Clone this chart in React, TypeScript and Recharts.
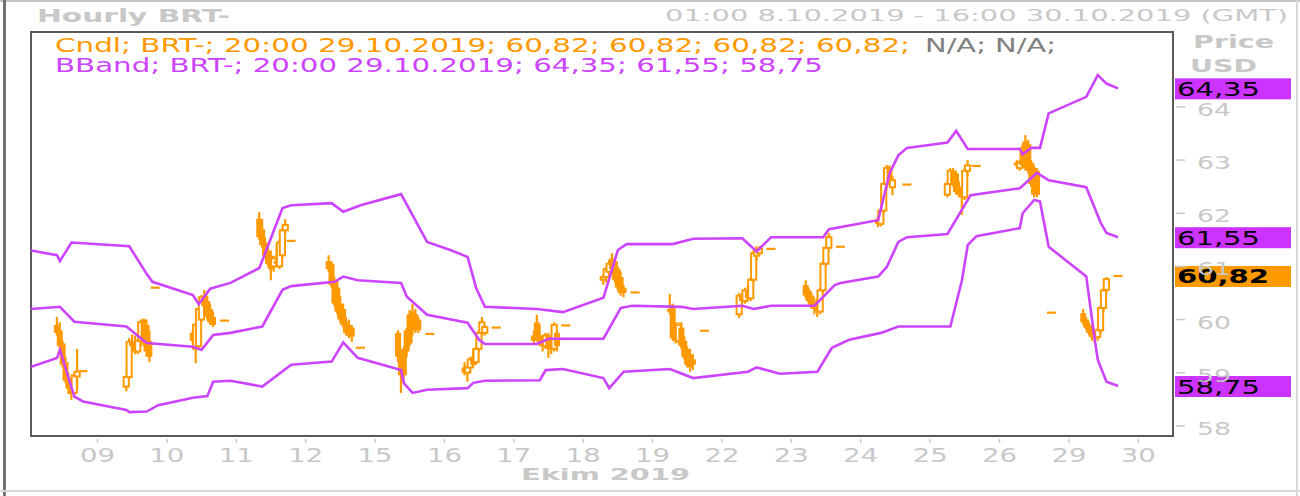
import { ComposedChart, Bar, Line, XAxis, YAxis, ReferenceLine, ReferenceArea } from 'recharts'

const ORANGE = '#FF9900'
const VIOLET = '#CC44FF'
const TAG_VIOLET = '#CC33FF'
const LIGHT = '#C8C8C8'
const FRAME = '#5A5A5A'
const FONT = "'DejaVu Sans', Verdana, sans-serif"

// x = hours since 01:00 8.10.2019, weekends squeezed out (24 slots per day)
const dayLabels = ['09', '10', '11', '12', '15', '16', '17', '18', '19', '22', '23', '24', '25', '26', '29', '30']
const dayTicks = dayLabels.map((_, i) => 23 + i * 24)
const priceTicks = [58, 59, 60, 61, 62, 63, 64]

// [hour, open, high, low, close]
type Candle = [number, number, number, number, number]
const oct08: Candle[] = [
  [9, 59.9, 60.05, 59.7, 59.75], [10, 59.8, 59.95, 59.45, 59.5], [11, 59.55, 59.6, 59.1, 59.15],
  [12, 59.2, 59.3, 58.8, 58.85], [13, 58.9, 59.0, 58.6, 58.7], [14, 58.75, 58.85, 58.49, 58.6],
  [15, 58.62, 59.0, 58.55, 58.95], [16, 58.93, 59.45, 58.68, 59.02], [18, 59.03, 59.03, 59.03, 59.03],
]
const oct09: Candle[] = [
  [33, 58.74, 58.95, 58.65, 58.92], [34, 58.92, 59.65, 58.88, 59.58], [35, 59.58, 59.72, 59.45, 59.5],
  [36, 59.55, 59.7, 59.35, 59.4], [37, 59.4, 59.65, 59.35, 59.6], [38, 59.6, 60.0, 59.5, 59.95],
  [39, 60.0, 60.02, 59.5, 59.55], [40, 59.9, 60.0, 59.3, 59.4], [41, 59.6, 59.8, 59.2, 59.3],
  [43, 60.6, 60.6, 60.6, 60.6],
]
const oct10: Candle[] = [
  [56, 59.75, 59.8, 59.55, 59.6], [57, 59.45, 59.94, 59.18, 59.9], [58, 59.5, 60.22, 59.45, 60.2],
  [59, 60.0, 60.46, 59.95, 60.42], [60, 60.45, 60.56, 60.2, 60.25], [61, 60.35, 60.45, 60.0, 60.05],
  [62, 60.2, 60.3, 59.9, 59.95], [63, 60.05, 60.15, 59.86, 59.9], [67, 59.98, 59.98, 59.98, 59.98],
]
const oct11: Candle[] = [
  [79, 61.9, 62.02, 61.5, 61.55], [80, 61.7, 61.89, 61.35, 61.4], [81, 61.45, 61.55, 61.15, 61.2],
  [82, 61.3, 61.4, 61.0, 61.05], [83, 61.2, 61.3, 60.74, 60.95], [84, 61.0, 61.2, 60.9, 61.15],
  [85, 61.1, 61.4, 61.0, 61.05], [86, 61.0, 61.5, 60.95, 61.45], [87, 61.21, 61.7, 61.15, 61.68],
  [88, 61.68, 61.89, 61.6, 61.78], [90, 61.48, 61.48, 61.48, 61.48],
]
const oct14: Candle[] = [
  [103, 61.1, 61.21, 60.9, 60.95], [104, 61.05, 61.1, 60.6, 60.65], [105, 60.7, 60.8, 60.25, 60.3],
  [106, 60.6, 60.74, 60.1, 60.15], [107, 60.3, 60.45, 59.95, 60.0], [108, 60.2, 60.3, 59.85, 59.9],
  [109, 59.95, 60.05, 59.7, 59.75], [110, 59.9, 60.0, 59.65, 59.7], [111, 59.85, 59.9, 59.58, 59.68],
  [114, 59.47, 59.47, 59.47, 59.47],
]
const oct15: Candle[] = [
  [127, 59.75, 59.8, 59.2, 59.3], [128, 59.3, 59.45, 58.62, 58.95], [129, 59.45, 59.5, 58.9, 58.95],
  [130, 59.8, 59.85, 59.3, 59.4], [131, 60.1, 60.18, 59.5, 59.55], [132, 60.15, 60.29, 59.7, 59.8],
  [133, 60.1, 60.2, 59.75, 59.85], [134, 60.0, 60.05, 59.75, 59.8], [138, 59.73, 59.73, 59.73, 59.73],
]
const oct16: Candle[] = [
  [150, 59.1, 59.2, 58.95, 59.0], [151, 59.0, 59.15, 58.83, 59.1], [152, 59.1, 59.3, 59.0, 59.25],
  [153, 59.3, 59.45, 59.1, 59.15], [154, 59.2, 59.5, 59.15, 59.45], [155, 59.45, 59.8, 59.4, 59.75],
  [156, 59.75, 60.05, 59.7, 59.95], [157, 59.75, 59.9, 59.7, 59.86], [161, 59.85, 59.85, 59.85, 59.85],
]
const oct17: Candle[] = [
  [174, 59.7, 59.8, 59.55, 59.6], [175, 59.95, 60.09, 59.6, 59.65], [176, 59.7, 59.9, 59.5, 59.55],
  [177, 59.55, 59.65, 59.4, 59.5], [178, 59.5, 59.75, 59.45, 59.7], [179, 59.7, 59.75, 59.28, 59.45],
  [180, 59.5, 59.7, 59.35, 59.45], [181, 59.45, 59.95, 59.4, 59.9], [182, 59.75, 59.8, 59.4, 59.5],
  [185, 59.89, 59.89, 59.89, 59.89],
]
const oct18: Candle[] = [
  [198, 60.75, 60.85, 60.65, 60.8], [199, 60.8, 61.0, 60.7, 60.95], [200, 60.9, 61.12, 60.85, 61.05],
  [201, 61.15, 61.25, 60.9, 60.95], [202, 61.1, 61.15, 60.7, 60.75], [203, 60.95, 61.0, 60.55, 60.6],
  [204, 60.8, 60.9, 60.45, 60.5], [205, 60.6, 60.65, 60.42, 60.5], [209, 60.51, 60.51, 60.51, 60.51],
]
const oct21: Candle[] = [
  [221, 60.2, 60.48, 60.1, 60.15], [222, 60.25, 60.3, 59.6, 59.65], [223, 59.8, 59.95, 59.55, 59.6],
  [224, 59.6, 59.95, 59.55, 59.9], [225, 59.85, 59.95, 59.45, 59.5], [226, 59.6, 59.7, 59.25, 59.3],
  [227, 59.45, 59.5, 59.1, 59.15], [228, 59.35, 59.45, 59.02, 59.1], [229, 59.25, 59.35, 59.05, 59.15],
  [233, 59.79, 59.79, 59.79, 59.79],
]
const oct22: Candle[] = [
  [245, 60.1, 60.5, 60.03, 60.45], [246, 60.45, 60.5, 60.3, 60.35], [247, 60.35, 60.6, 60.3, 60.55],
  [248, 60.55, 60.65, 60.35, 60.4], [249, 60.4, 60.8, 60.35, 60.75], [250, 60.75, 61.3, 60.7, 61.25],
  [251, 61.2, 61.38, 61.1, 61.3], [252, 61.25, 61.38, 61.2, 61.33], [256, 61.33, 61.33, 61.33, 61.33],
]
const oct23: Candle[] = [
  [268, 60.65, 60.74, 60.4, 60.45], [269, 60.55, 60.6, 60.3, 60.35], [270, 60.45, 60.5, 60.2, 60.25],
  [271, 60.35, 60.4, 60.1, 60.2], [272, 60.3, 60.4, 60.05, 60.15], [273, 60.15, 60.6, 60.1, 60.55],
  [274, 60.55, 61.1, 60.5, 61.05], [275, 61.05, 61.4, 61.0, 61.35], [276, 61.35, 61.63, 61.3, 61.55],
  [280, 61.37, 61.37, 61.37, 61.37],
]
const oct24: Candle[] = [
  [293, 61.9, 61.95, 61.74, 61.8], [294, 61.8, 62.1, 61.75, 62.05], [295, 62.05, 62.6, 62.0, 62.55],
  [296, 62.55, 62.91, 62.45, 62.85], [297, 62.85, 62.9, 62.55, 62.6], [298, 62.49, 62.7, 62.34, 62.62],
  [303, 62.54, 62.54, 62.54, 62.54],
]
const oct25: Candle[] = [
  [317, 62.35, 62.6, 62.3, 62.55], [318, 62.55, 62.85, 62.5, 62.8], [319, 62.8, 62.85, 62.5, 62.55],
  [320, 62.75, 62.8, 62.35, 62.4], [321, 62.5, 62.6, 62.3, 62.35], [322, 62.35, 62.45, 61.97, 62.3],
  [323, 62.3, 62.85, 62.25, 62.8], [324, 62.8, 63.0, 62.7, 62.9], [327, 62.89, 62.89, 62.89, 62.89],
]
const oct28: Candle[] = [
  [341, 62.95, 63.0, 62.85, 62.9], [342, 62.85, 63.0, 62.8, 62.95], [343, 63.25, 63.3, 62.85, 62.9],
  [344, 63.35, 63.47, 62.8, 62.85], [345, 63.3, 63.38, 62.75, 62.8], [346, 62.95, 63.0, 62.5, 62.55],
  [347, 62.85, 62.9, 62.3, 62.35], [348, 62.8, 62.85, 62.3, 62.35], [353, 60.13, 60.13, 60.13, 60.13],
]
const oct29: Candle[] = [
  [364, 60.12, 60.2, 59.9, 59.95], [365, 60.0, 60.05, 59.8, 59.85], [366, 59.9, 59.95, 59.7, 59.75],
  [367, 59.8, 59.85, 59.6, 59.67], [368, 59.75, 59.8, 59.56, 59.65], [369, 59.67, 59.85, 59.6, 59.8],
  [370, 59.8, 60.25, 59.75, 60.22], [371, 60.22, 60.6, 60.15, 60.55], [372, 60.56, 60.8, 60.5, 60.76],
  [376, 60.82, 60.82, 60.82, 60.82],
]

// Bollinger band points [hour, value]
const upperBand: [number, number][] = [
  [0, 61.3], [9, 61.21], [10, 61.1], [14, 61.45], [34, 61.38], [40, 60.86], [42, 60.71], [56, 60.46],
  [58, 60.29], [62, 60.58], [69, 60.69], [79, 60.97], [87, 62.1], [90, 62.15], [104, 62.19], [108, 62.03],
  [114, 62.15], [128, 62.36], [137, 61.46], [145, 61.31], [151, 61.18], [154, 60.59], [157, 60.24],
  [175, 60.2], [184, 60.14], [198, 60.41], [203, 61.31], [206, 61.42], [222, 61.42], [229, 61.52],
  [246, 61.53], [251, 61.28], [256, 61.55], [274, 61.55], [276, 61.7], [293, 61.87], [297, 62.76],
  [300, 63.09], [303, 63.23], [317, 63.33], [320, 63.55], [324, 63.21], [342, 63.21], [343, 63.11],
  [346, 63.23], [349, 63.23], [352, 63.88], [365, 64.19], [369, 64.6], [372, 64.44], [376, 64.35],
]
const middleBand: [number, number][] = [
  [0, 60.2], [10, 60.24], [15, 59.96], [33, 59.87], [40, 59.56], [56, 59.49], [59, 59.43], [63, 59.71],
  [69, 59.75], [80, 59.87], [87, 60.56], [90, 60.63], [105, 60.71], [108, 60.81], [113, 60.74],
  [128, 60.69], [130, 60.43], [137, 60.09], [151, 59.94], [155, 59.62], [157, 59.54], [175, 59.54],
  [179, 59.64], [198, 59.64], [204, 60.22], [208, 60.26], [225, 60.24], [229, 60.2], [246, 60.26],
  [250, 60.2], [256, 60.26], [271, 60.26], [278, 60.65], [280, 60.69], [293, 60.81], [296, 60.99],
  [300, 61.46], [303, 61.55], [317, 61.61], [325, 62.34], [342, 62.47], [348, 62.76], [352, 62.62],
  [365, 62.49], [370, 61.82], [372, 61.63], [376, 61.55],
]
const lowerBand: [number, number][] = [
  [0, 59.11], [9, 59.28], [10, 59.43], [15, 58.55], [18, 58.46], [33, 58.3], [34, 58.26], [40, 58.27],
  [44, 58.39], [56, 58.53], [61, 58.56], [63, 58.83], [69, 58.85], [80, 58.74], [90, 59.15], [104, 59.21],
  [108, 59.57], [113, 59.28], [128, 59.05], [129, 58.8], [132, 58.62], [137, 58.68], [151, 58.71],
  [153, 58.81], [157, 58.85], [176, 58.86], [178, 59.05], [184, 59.07], [198, 58.9], [200, 58.71],
  [205, 59.02], [221, 59.07], [229, 58.9], [248, 59.02], [251, 59.1], [259, 58.98], [272, 59.02],
  [277, 59.47], [283, 59.62], [294, 59.75], [300, 59.87], [318, 59.87], [322, 60.74], [324, 61.4],
  [327, 61.57], [342, 61.72], [343, 62.0], [347, 62.25], [349, 62.22], [352, 61.37], [365, 60.81],
  [368, 59.6], [369, 59.24], [372, 58.83], [376, 58.75],
]

const lastBands = [64.35, 61.55, 58.75]
const lastClose = 60.82
const fmt = (v: number) => v.toFixed(2).replace('.', ',')

type Row = {
  t: number
  open?: number
  high?: number
  low?: number
  close?: number
  range?: [number, number]
  upper?: number
  middle?: number
  lower?: number
}

const rowMap = new Map<number, Row>()
const rowAt = (t: number) => {
  let r = rowMap.get(t)
  if (!r) {
    r = { t }
    rowMap.set(t, r)
  }
  return r
}
;[oct08, oct09, oct10, oct11, oct14, oct15, oct16, oct17, oct18, oct21, oct22, oct23, oct24, oct25, oct28, oct29]
  .flat()
  .forEach(([t, o, h, l, c]) => Object.assign(rowAt(t), { open: o, high: h, low: l, close: c, range: [l, h] }))
upperBand.forEach(([t, v]) => (rowAt(t).upper = v))
middleBand.forEach(([t, v]) => (rowAt(t).middle = v))
lowerBand.forEach(([t, v]) => (rowAt(t).lower = v))
const data = [...rowMap.values()].sort((a, b) => a.t - b.t)

const X_DOMAIN: [number, number] = [0, 395]
const Y_DOMAIN: [number, number] = [57.81, 65.41]

function CandleShape(props: any) {
  const { x, y, width, height, payload } = props
  if (!payload || payload.high == null) return null
  const { open, high, low, close } = payload
  const cx = x + width / 2
  const top = Math.min(y, y + height)
  const h = Math.abs(height)
  const span = high - low
  if (span === 0) {
    return <line x1={cx - 4.5} x2={cx + 4.5} y1={top} y2={top} stroke={ORANGE} strokeWidth={2.2} />
  }
  const yOf = (v: number) => top + ((high - v) / span) * h
  const bTop = yOf(Math.max(open, close))
  const bBot = yOf(Math.min(open, close))
  const up = close >= open
  return (
    <g>
      <line x1={cx} x2={cx} y1={top} y2={top + h} stroke={ORANGE} strokeWidth={2.2} />
      {up ? (
        <rect x={cx - 2.6} y={bTop} width={5.2} height={Math.max(bBot - bTop, 1)} fill="#fff" stroke={ORANGE} strokeWidth={2} />
      ) : (
        <rect x={cx - 3} y={bTop} width={6} height={Math.max(bBot - bTop, 2)} fill={ORANGE} />
      )}
    </g>
  )
}

function DayTick(props: any) {
  const { x, y, payload } = props
  const label = dayLabels[dayTicks.indexOf(payload.value)]
  return (
    <g>
      <line x1={x} x2={x} y1={y + 3} y2={y + 7} stroke={LIGHT} strokeWidth={1.5} />
      <text x={x} y={y + 26} textAnchor="middle" fontSize={19} fill={LIGHT} fontFamily={FONT} textLength={35} lengthAdjust="spacingAndGlyphs">
        {label}
      </text>
    </g>
  )
}

function PriceTick(props: any) {
  const { x, y, payload } = props
  return (
    <g>
      <line x1={x + 3} x2={x + 12} y1={y} y2={y} stroke={LIGHT} strokeWidth={1.5} />
      <text x={x + 24} y={y + 9} fontSize={18} fill={LIGHT} fontFamily={FONT} textLength={34} lengthAdjust="spacingAndGlyphs">
        {payload.value}
      </text>
    </g>
  )
}

function Tag(props: any) {
  const { viewBox, text, fill, bold } = props
  if (!viewBox) return null
  const x = viewBox.x + viewBox.width + 2
  const y = viewBox.y
  return (
    <g>
      <rect x={x} y={y - 10} width={116} height={21} fill={fill} />
      <text x={x + 2} y={y + 7.5} fontSize={19} fontWeight={bold ? 700 : 400} fill="#000" fontFamily={FONT} textLength={bold ? 92 : 83} lengthAdjust="spacingAndGlyphs">
        {text}
      </text>
    </g>
  )
}

export default function App() {
  return (
    <div style={{ position: 'absolute', left: 0, top: 0, width: 1300, height: 496, background: '#fff' }}>
      <ComposedChart width={1300} height={496} data={data} margin={{ top: 32, right: 0, left: 31, bottom: 0 }}>
        <XAxis
          type="number"
          dataKey="t"
          domain={X_DOMAIN}
          ticks={dayTicks}
          interval={0}
          height={60}
          axisLine={false}
          tickLine={false}
          tickSize={0}
          tickMargin={0}
          tick={<DayTick />}
          allowDataOverflow
        />
        <YAxis
          orientation="right"
          domain={Y_DOMAIN}
          ticks={priceTicks}
          width={127}
          axisLine={false}
          tickLine={false}
          tickSize={0}
          tickMargin={0}
          tick={<PriceTick />}
          allowDataOverflow
        />
        <ReferenceArea x1={X_DOMAIN[0]} x2={X_DOMAIN[1]} y1={Y_DOMAIN[0]} y2={Y_DOMAIN[1]} fill="none" stroke={FRAME} strokeWidth={2} fillOpacity={0} ifOverflow="visible" />
        <Bar dataKey="range" shape={<CandleShape />} barSize={3} isAnimationActive={false} />
        <Line type="linear" dataKey="upper" stroke={VIOLET} strokeWidth={2.6} dot={false} connectNulls isAnimationActive={false} />
        <Line type="linear" dataKey="middle" stroke={VIOLET} strokeWidth={2.6} dot={false} connectNulls isAnimationActive={false} />
        <Line type="linear" dataKey="lower" stroke={VIOLET} strokeWidth={2.6} dot={false} connectNulls isAnimationActive={false} />
        {lastBands.map(v => (
          <ReferenceLine key={v} y={v} stroke="none" ifOverflow="visible" label={<Tag text={fmt(v)} fill={TAG_VIOLET} />} />
        ))}
        <ReferenceLine y={lastClose} stroke="none" ifOverflow="visible" label={<Tag text={fmt(lastClose)} fill={ORANGE} bold />} />
      </ComposedChart>

      <svg width={1300} height={496} style={{ position: 'absolute', left: 0, top: 0, pointerEvents: 'none' }} fontFamily={FONT}>
        <rect x={0} y={0} width={1300} height={2} fill="#C4C4C4" />
        <rect x={3} y={0} width={3} height={496} fill="#737373" />
        <rect x={1296} y={0} width={2} height={496} fill="#D8D8D8" />
        <rect x={0} y={490} width={1300} height={2} fill="#D8D8D8" />
        <text x={37} y={22} fontSize={17} fontWeight={700} fill={LIGHT} textLength={193} lengthAdjust="spacingAndGlyphs">
          Hourly BRT-
        </text>
        <text x={665} y={21} fontSize={15.6} fill={LIGHT} textLength={623} lengthAdjust="spacingAndGlyphs">
          01:00 8.10.2019 - 16:00 30.10.2019 (GMT)
        </text>
        <text x={55} y={52} fontSize={19} fill={ORANGE} textLength={855} lengthAdjust="spacingAndGlyphs">
          Cndl; BRT-; 20:00 29.10.2019; 60,82; 60,82; 60,82; 60,82;
        </text>
        <text x={925} y={52} fontSize={19} fill="#808080" textLength={131} lengthAdjust="spacingAndGlyphs">
          N/A; N/A;
        </text>
        <text x={55} y={72} fontSize={19} fill={VIOLET} textLength={768} lengthAdjust="spacingAndGlyphs">
          BBand; BRT-; 20:00 29.10.2019; 64,35; 61,55; 58,75
        </text>
        <text x={1193} y={48} fontSize={17} fontWeight={700} fill={LIGHT} textLength={81} lengthAdjust="spacingAndGlyphs">
          Price
        </text>
        <text x={1190} y={72} fontSize={17} fontWeight={700} fill={LIGHT} textLength={67} lengthAdjust="spacingAndGlyphs">
          USD
        </text>
        <text x={521} y={480} fontSize={16.5} fontWeight={700} fill={LIGHT} textLength={169} lengthAdjust="spacingAndGlyphs">
          Ekim 2019
        </text>
      </svg>
    </div>
  )
}
